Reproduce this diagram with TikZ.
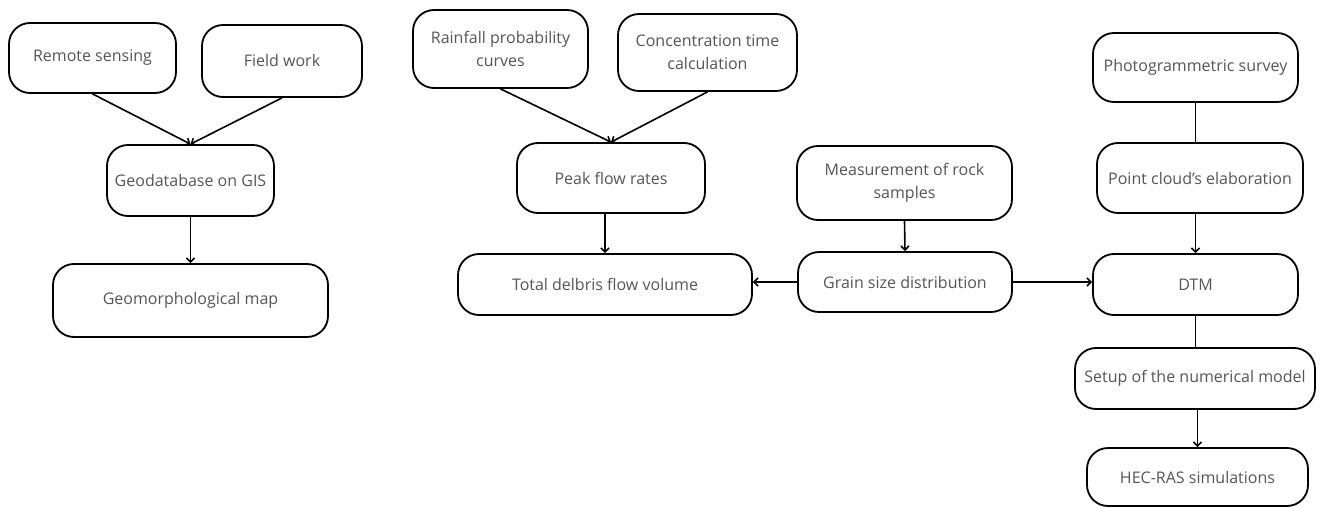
\documentclass[tikz,border=0pt]{standalone}
\usepackage{fontspec}
\setmainfont{Open Sans}
\usepackage{tikz}
\usetikzlibrary{arrows.meta,positioning}
\definecolor{BoxText}{HTML}{555555}

\begin{document}
\begin{tikzpicture}[x=1pt,y=-1pt,
        stepbox/.style={draw,line width=1.8pt,rounded corners=21pt,inner sep=0pt,
            align=center,text=BoxText,font=\fontsize{16}{23}\selectfont},
        flow/.style={line width=1.6pt,-{Straight Barb[length=4pt,width=8pt]}},
        link/.style={line width=1.6pt}]
    \useasboundingbox (0,0) rectangle (1320,508);
    % mapping branch
    \node[stepbox,minimum width=167,minimum height=70] (remote) at (92.5,58) {Remote sensing};
    \node[stepbox,minimum width=160,minimum height=72] (field) at (282,61) {Field work};
    \node[stepbox,minimum width=167,minimum height=71] (geodb) at (190.5,180.5) {Geodatabase on GIS};
    \node[stepbox,minimum width=275,minimum height=73] (geomap) at (190.5,300.5) {Geomorphological map};
    % hydrology branch
    \node[stepbox,minimum width=175,minimum height=78] (rain) at (500.5,49) {Rainfall probability\\curves};
    \node[stepbox,minimum width=179,minimum height=77] (conc) at (707.5,52.5) {Concentration time\\calculation};
    \node[stepbox,minimum width=188,minimum height=70] (peak) at (611,178) {Peak flow rates};
    \node[stepbox,minimum width=294,minimum height=61] (total) at (605,284.5) {Total delbris flow volume};
    \node[stepbox,minimum width=215,minimum height=74] (rock) at (904.5,183) {Measurement of rock\\samples};
    \node[stepbox,minimum width=214,minimum height=60] (grain) at (905,282) {Grain size distribution};
    % survey and model branch
    \node[stepbox,minimum width=205,minimum height=69] (photo) at (1195.5,67.5) {Photogrammetric survey};
    \node[stepbox,minimum width=206,minimum height=70] (cloud) at (1200,178) {Point cloud’s elaboration};
    \node[stepbox,minimum width=205,minimum height=61] (dtm) at (1195.5,284.5) {DTM};
    \node[stepbox,minimum width=240,minimum height=61] (setup) at (1195,378.5) {Setup of the numerical model};
    \node[stepbox,minimum width=221,minimum height=58] (hecras) at (1197.5,477) {HEC-RAS simulations};

    \draw[flow] (remote.south) -- (geodb.north);
    \draw[flow] (field.south) -- (geodb.north);
    \draw[flow] (geodb.south) -- (geomap.north);
    \draw[flow] (rain.south) -- (peak.north);
    \draw[flow] (conc.south) -- (peak.north);
    \draw[flow] (total.north |- peak.south) -- (total.north);
    \draw[flow] (rock.south) -- (grain.north);
    \draw[flow] (grain.west) -- (grain.west -| total.east);
    \draw[flow] (grain.east) -- (grain.east -| dtm.west);
    \draw[link] (photo.south) -- (photo.south |- cloud.north);
    \draw[flow] (dtm.north |- cloud.south) -- (dtm.north);
    \draw[link] (dtm.south) -- (dtm.south |- setup.north);
    \draw[flow] (hecras.north |- setup.south) -- (hecras.north);
\end{tikzpicture}
\end{document}
